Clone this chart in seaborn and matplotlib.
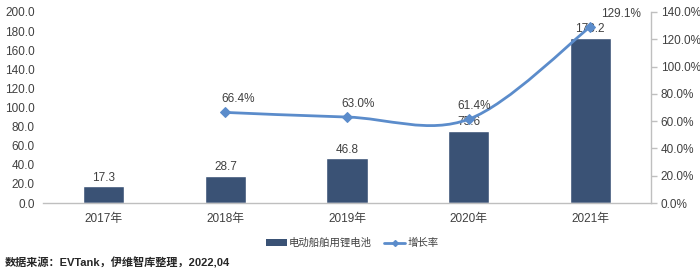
import numpy as np
import matplotlib
matplotlib.use("Agg")
import matplotlib.pyplot as plt
from matplotlib.path import Path
from matplotlib.patches import PathPatch
from matplotlib.lines import Line2D
from matplotlib.patches import Patch
import seaborn as sns

years = ["2017年", "2018年", "2019年", "2020年", "2021年"]
shipments = [17.3, 28.7, 46.8, 75.6, 173.2]
growth_years = ["2018年", "2019年", "2020年", "2021年"]
growth = [66.4, 63.0, 61.4, 129.1]
bar_label = "电动船舶用锂电池"
line_label = "增长率"
source = "数据来源：EVTank，伊维智库整理，2022,04"

sns.set_theme(style="white")
plt.rcParams['font.family'] = ['Liberation Sans', 'Noto Sans CJK SC', 'DejaVu Sans']

bar_color = "#3A5275"
line_color = "#5B8CCB"
text_color = "#404040"

fig = plt.figure(figsize=(7, 2.72), dpi=100)
ax = fig.add_axes([43/700, 1-203/272, (651-43)/700, (203-12)/272])

sns.barplot(x=years, y=shipments, color=bar_color, width=0.34, ax=ax, saturation=1)
ax.set_xlim(-0.5, len(years)-0.5)
ax.set_ylim(0, 200)
ax.set_yticks(np.arange(0, 201, 20))
ax.set_yticklabels([f"{v:.1f}" for v in np.arange(0, 201, 20)], fontsize=8.5, color=text_color)
ax.set_xlabel("")
ax.set_ylabel("")
ax.tick_params(axis='x', labelsize=8.5, colors=text_color, length=0, pad=7)
ax.tick_params(axis='y', length=0, pad=6)
for s in ["top", "left", "right"]:
    ax.spines[s].set_visible(False)
ax.spines["bottom"].set_color("#BFBFBF")
ax.spines["bottom"].set_linewidth(1)

for i, v in enumerate(shipments):
    ax.annotate(f"{v:.1f}", (i, v), xytext=(0, 2), textcoords="offset points",
                ha="center", va="bottom", fontsize=8.5, color=text_color)

ax2 = ax.twinx()
ax2.set_ylim(0, 140)
ax2.set_yticks(np.arange(0, 141, 20))
ax2.set_yticklabels([f"{v:.1f}%" for v in np.arange(0, 141, 20)], fontsize=8.5, color=text_color)
ax2.tick_params(axis='y', length=4, width=1, color="#BFBFBF", pad=3, direction="out")
for s in ["top", "left", "bottom"]:
    ax2.spines[s].set_visible(False)
ax2.spines["right"].set_color("#BFBFBF")
ax2.spines["right"].set_linewidth(1)

gx = np.array([years.index(y) for y in growth_years], dtype=float)
gy = np.array(growth, dtype=float)

# smooth curve through points (Catmull-Rom rendered as cubic Bezier)
pts = np.column_stack([gx, gy])
verts = [tuple(pts[0])]
codes = [Path.MOVETO]
n = len(pts)
for i in range(n-1):
    p0 = pts[i-1] if i > 0 else pts[i]
    p1 = pts[i]
    p2 = pts[i+1]
    p3 = pts[i+2] if i+2 < n else pts[i+1]
    c1 = p1 + (p2 - p0) / 6.0
    c2 = p2 - (p3 - p1) / 6.0
    verts += [tuple(c1), tuple(c2), tuple(p2)]
    codes += [Path.CURVE4, Path.CURVE4, Path.CURVE4]
ax2.add_patch(PathPatch(Path(verts, codes), facecolor="none", edgecolor=line_color, lw=2, zorder=3))

sns.lineplot(x=gx, y=gy, ax=ax2, linestyle="", marker="D", markersize=5,
             color=line_color, markeredgecolor=line_color, zorder=4)

offsets = [(9, 5), (8, 5), (4, 5), (22, 5)]
for xi, yi, off in zip(gx, gy, offsets):
    ax2.annotate(f"{yi:.1f}%", (xi, yi), xytext=off, textcoords="offset points",
                 ha="center", va="bottom", fontsize=8.5, color=text_color)

handles = [Patch(facecolor=bar_color, edgecolor="none"),
           Line2D([0], [0], color=line_color, lw=2, marker="D", markersize=3)]
fig.legend(handles, [bar_label, line_label], loc="center", bbox_to_anchor=(352/700, 1-243/272),
           ncol=2, frameon=False, fontsize=7.5, handlelength=2, handleheight=0.6,
           columnspacing=1.2, handletextpad=0.2, labelcolor=text_color)

fig.text(5/700, 1-263/272, source, fontsize=8, fontweight="bold", color="#262626",
         ha="left", va="center")

fig.savefig("out.png", dpi=100)
